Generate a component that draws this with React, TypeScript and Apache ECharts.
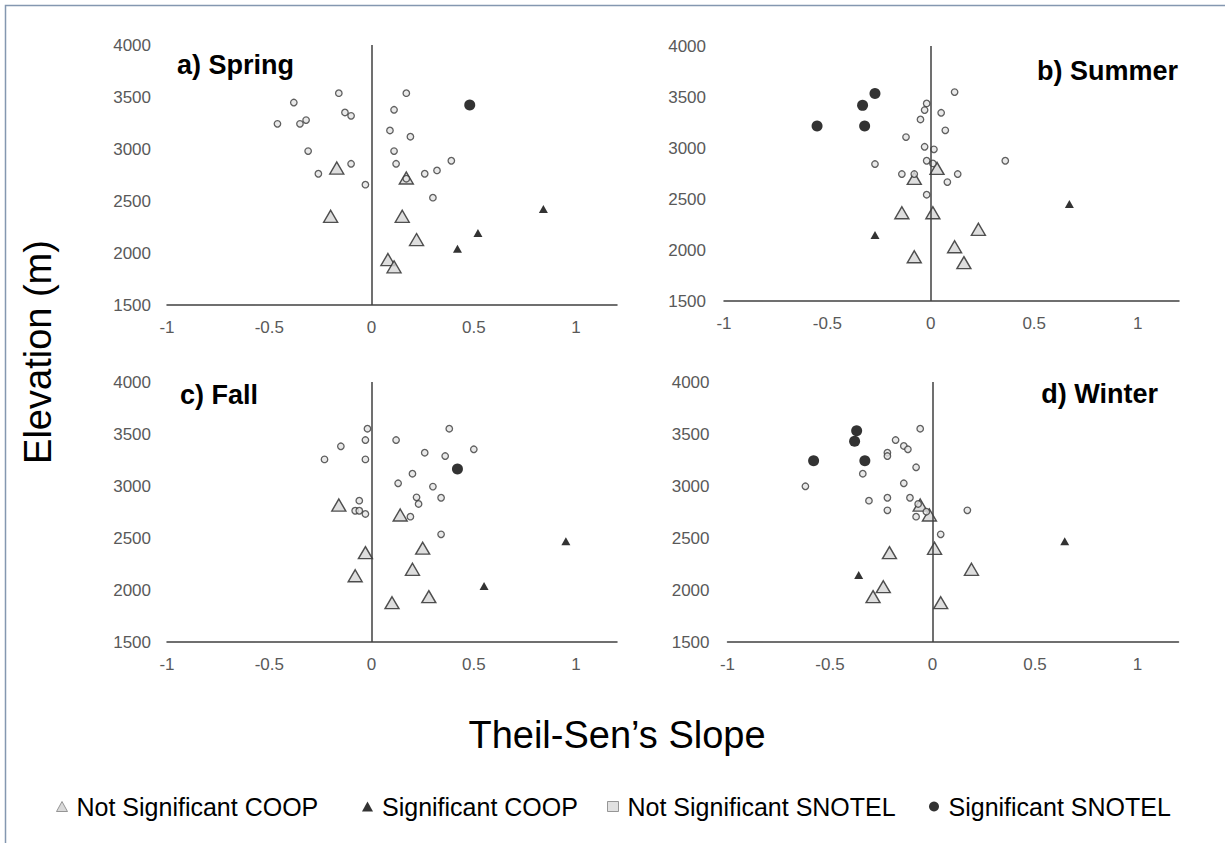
import React, { useEffect, useRef } from 'react';
import * as echarts from 'echarts';

const FONT = '"Liberation Sans", Arial, sans-serif';

// Tick labels
const yTicks = [1500, 2000, 2500, 3000, 3500, 4000];
const xTickLabels = [-1, -0.5, 0, 0.5, 1];

// Panel titles
const panelTitles = ['a) Spring', 'b) Summer', 'c) Fall', 'd) Winter'];
const seriesNames = ['Not Significant COOP', 'Significant COOP', 'Not Significant SNOTEL', 'Significant SNOTEL'];

// a) Spring
const springNsCoop = [[-0.17, 2817], [0.17, 2721], [-0.2, 2353], [0.15, 2353], [0.22, 2129], [0.08, 1937], [0.11, 1867]];
const springSCoop = [[0.84, 2423], [0.52, 2193], [0.42, 2040]];
const springNsSnotel = [[-0.16, 3537], [-0.38, 3447], [-0.13, 3351], [-0.1, 3319], [-0.46, 3242], [-0.35, 3242], [-0.32, 3278], [-0.31, 2980], [-0.1, 2858], [-0.26, 2762], [-0.03, 2657], [0.17, 3537], [0.11, 3377], [0.09, 3178], [0.19, 3118], [0.11, 2980], [0.12, 2858], [0.17, 2714], [0.26, 2762], [0.32, 2794], [0.39, 2887], [0.3, 2532]];
const springSSnotel = [[0.48, 3422]];

// b) Summer
const summerNsCoop = [[0.03, 2800], [-0.08, 2702], [-0.14, 2365], [0.01, 2365], [0.23, 2203], [0.115, 2032], [-0.08, 1934], [0.16, 1876]];
const summerSCoop = [[0.67, 2451], [-0.27, 2147]];
const summerNsSnotel = [[0.115, 3548], [-0.02, 3437], [-0.03, 3372], [0.05, 3345], [-0.05, 3280], [0.07, 3173], [-0.12, 3107], [-0.03, 3012], [0.015, 2987], [-0.27, 2843], [-0.02, 2875], [0.01, 2849], [0.36, 2875], [-0.14, 2745], [-0.08, 2745], [0.13, 2745], [0.08, 2666], [-0.02, 2542]];
const summerSSnotel = [[-0.27, 3535], [-0.33, 3418], [-0.55, 3215], [-0.32, 3215]];

// c) Fall
const fallNsCoop = [[-0.16, 2817], [0.14, 2721], [-0.03, 2359], [0.25, 2402], [0.2, 2199], [-0.08, 2137], [0.28, 1936], [0.1, 1878]];
const fallSCoop = [[0.95, 2468], [0.55, 2038]];
const fallNsSnotel = [[-0.02, 3551], [0.38, 3551], [-0.03, 3442], [0.12, 3442], [-0.15, 3382], [0.5, 3353], [0.26, 3320], [0.36, 3288], [-0.23, 3256], [-0.03, 3256], [0.2, 3118], [0.13, 3026], [0.3, 2994], [0.22, 2891], [0.34, 2887], [0.23, 2827], [-0.06, 2859], [-0.08, 2762], [-0.06, 2762], [-0.03, 2731], [0.19, 2705], [0.34, 2535]];
const fallSSnotel = [[0.42, 3163]];

// d) Winter
const winterNsCoop = [[-0.06, 2817], [-0.015, 2721], [0.01, 2401], [-0.21, 2359], [0.19, 2199], [-0.24, 2032], [-0.29, 1936], [0.04, 1878]];
const winterSCoop = [[0.645, 2468], [-0.36, 2144]];
const winterNsSnotel = [[-0.06, 3551], [-0.18, 3442], [-0.14, 3385], [-0.12, 3353], [-0.22, 3320], [-0.22, 3288], [-0.08, 3180], [-0.34, 3118], [-0.14, 3026], [-0.62, 2997], [-0.31, 2859], [-0.22, 2887], [-0.11, 2887], [-0.07, 2827], [-0.22, 2766], [-0.08, 2705], [-0.03, 2753], [0.17, 2766], [0.04, 2535]];
const winterSSnotel = [[-0.37, 3532], [-0.38, 3430], [-0.58, 3243], [-0.33, 3243]];

const panelData = [
  [springNsCoop, springSCoop, springNsSnotel, springSSnotel],
  [summerNsCoop, summerSCoop, summerNsSnotel, summerSSnotel],
  [fallNsCoop, fallSCoop, fallNsSnotel, fallSSnotel],
  [winterNsCoop, winterSCoop, winterNsSnotel, winterSSnotel],
];

const grids = [
  { left: 167, top: 45, width: 450, height: 260 },
  { left: 724, top: 46, width: 455, height: 255 },
  { left: 167, top: 382, width: 450, height: 260 },
  { left: 727.5, top: 382, width: 451, height: 260 },
];

const styles = [
  { symbol: 'triangle', symbolSize: [14, 12], itemStyle: { color: '#d6d6d6', borderColor: '#262626', borderWidth: 1.4 } },
  { symbol: 'triangle', symbolSize: [9, 8], itemStyle: { color: '#000000' } },
  { symbol: 'circle', symbolSize: 6.5, itemStyle: { color: '#e4e4e4', borderColor: '#3a3a3a', borderWidth: 1.3 } },
  { symbol: 'circle', symbolSize: 11, itemStyle: { color: '#000000' } },
];

export default function App() {
  const ref = useRef<HTMLDivElement>(null);
  useEffect(() => {
    const chart = echarts.init(ref.current!, null, { renderer: 'svg' });
    const xAxis = grids.map((_, i) => ({
      type: 'value',
      gridIndex: i,
      min: -1,
      max: 1.2,
      interval: 0.5,
      splitLine: { show: false },
      axisTick: { show: false },
      axisLine: { show: true, onZero: false, lineStyle: { color: '#404040', width: 1.5 } },
      axisLabel: {
        color: '#595959',
        fontSize: 17,
        fontFamily: FONT,
        margin: 14,
        showMaxLabel: false,
        formatter: (v: number) => (xTickLabels.some((t) => Math.abs(t - v) < 1e-9) ? String(v) : ''),
      },
    }));
    const yAxis = grids.map((_, i) => ({
      type: 'value',
      gridIndex: i,
      min: 1500,
      max: 4000,
      interval: 500,
      splitLine: { show: false },
      axisTick: { show: false },
      axisLine: { show: false },
      axisLabel: {
        color: '#595959',
        fontSize: 17,
        fontFamily: FONT,
        margin: i % 2 === 0 ? 16 : 18,
        formatter: (v: number) => (yTicks.includes(v) ? String(v) : ''),
      },
    }));
    const series: any[] = [];
    panelData.forEach((sets, p) => {
      sets.forEach((d, k) => {
        const s: any = {
          type: 'scatter',
          name: seriesNames[k],
          xAxisIndex: p,
          yAxisIndex: p,
          data: d,
          z: 2 + k,
          emphasis: { disabled: true },
          ...styles[k],
        };
        if (k === 0) {
          s.markLine = {
            silent: true,
            symbol: ['none', 'none'],
            label: { show: false },
            lineStyle: { color: '#404040', width: 1.5, type: 'solid' },
            emphasis: { disabled: true },
            data: [{ xAxis: 0 }],
          };
        }
        series.push(s);
      });
    });
    const legendLefts = [51, 357, 602, 924];
    const legendIcons = ['triangle', 'triangle', 'rect', 'circle'];
    const legendItemStyles = [
      { color: '#d0d0d0', borderColor: '#7f7f7f', borderWidth: 1 },
      { color: '#000000', borderWidth: 0 },
      { color: '#d9d9d9', borderColor: '#7f7f7f', borderWidth: 1 },
      { color: '#000000', borderWidth: 0 },
    ];
    const legend = seriesNames.map((n, i) => ({
      left: legendLefts[i],
      top: 789,
      orient: 'horizontal',
      selectedMode: false,
      itemWidth: 11,
      itemHeight: 10,
      data: [{ name: n, icon: legendIcons[i], itemStyle: legendItemStyles[i] }],
      textStyle: { fontSize: 25, fontFamily: FONT, color: '#000000', padding: [0, 0, 0, 4] },
    }));
    const titleStyle = { fontSize: 27, fontWeight: 'bold', fontFamily: FONT, fill: '#000000' };
    const graphic: any[] = [
      {
        type: 'rect',
        shape: { x: 5.5, y: 5.5, width: 1240, height: 860 },
        style: { fill: 'none', stroke: '#8497b0', lineWidth: 1.5 },
        silent: true,
      },
      { type: 'text', x: 177, y: 65, style: { ...titleStyle, text: panelTitles[0], textAlign: 'left', textVerticalAlign: 'middle' } },
      { type: 'text', x: 1178, y: 71, style: { ...titleStyle, text: panelTitles[1], textAlign: 'right', textVerticalAlign: 'middle' } },
      { type: 'text', x: 180, y: 395, style: { ...titleStyle, text: panelTitles[2], textAlign: 'left', textVerticalAlign: 'middle' } },
      { type: 'text', x: 1158, y: 394, style: { ...titleStyle, text: panelTitles[3], textAlign: 'right', textVerticalAlign: 'middle' } },
      {
        type: 'text',
        x: 38,
        y: 352,
        rotation: Math.PI / 2,
        style: { text: 'Elevation (m)', fontSize: 38, fontFamily: FONT, fill: '#000000', textAlign: 'center', textVerticalAlign: 'middle' },
      },
      {
        type: 'text',
        x: 617,
        y: 735,
        style: { text: 'Theil-Sen\u2019s Slope', fontSize: 38, fontFamily: FONT, fill: '#000000', textAlign: 'center', textVerticalAlign: 'middle' },
      },
    ];
    chart.setOption({
      animation: false,
      backgroundColor: '#ffffff',
      grid: grids,
      xAxis,
      yAxis,
      series,
      legend,
      graphic,
    });
    return () => chart.dispose();
  }, []);
  return (
    <div
      ref={ref}
      style={{ position: 'absolute', left: 0, top: 0, width: 1225, height: 843, background: '#ffffff' }}
    />
  );
}
